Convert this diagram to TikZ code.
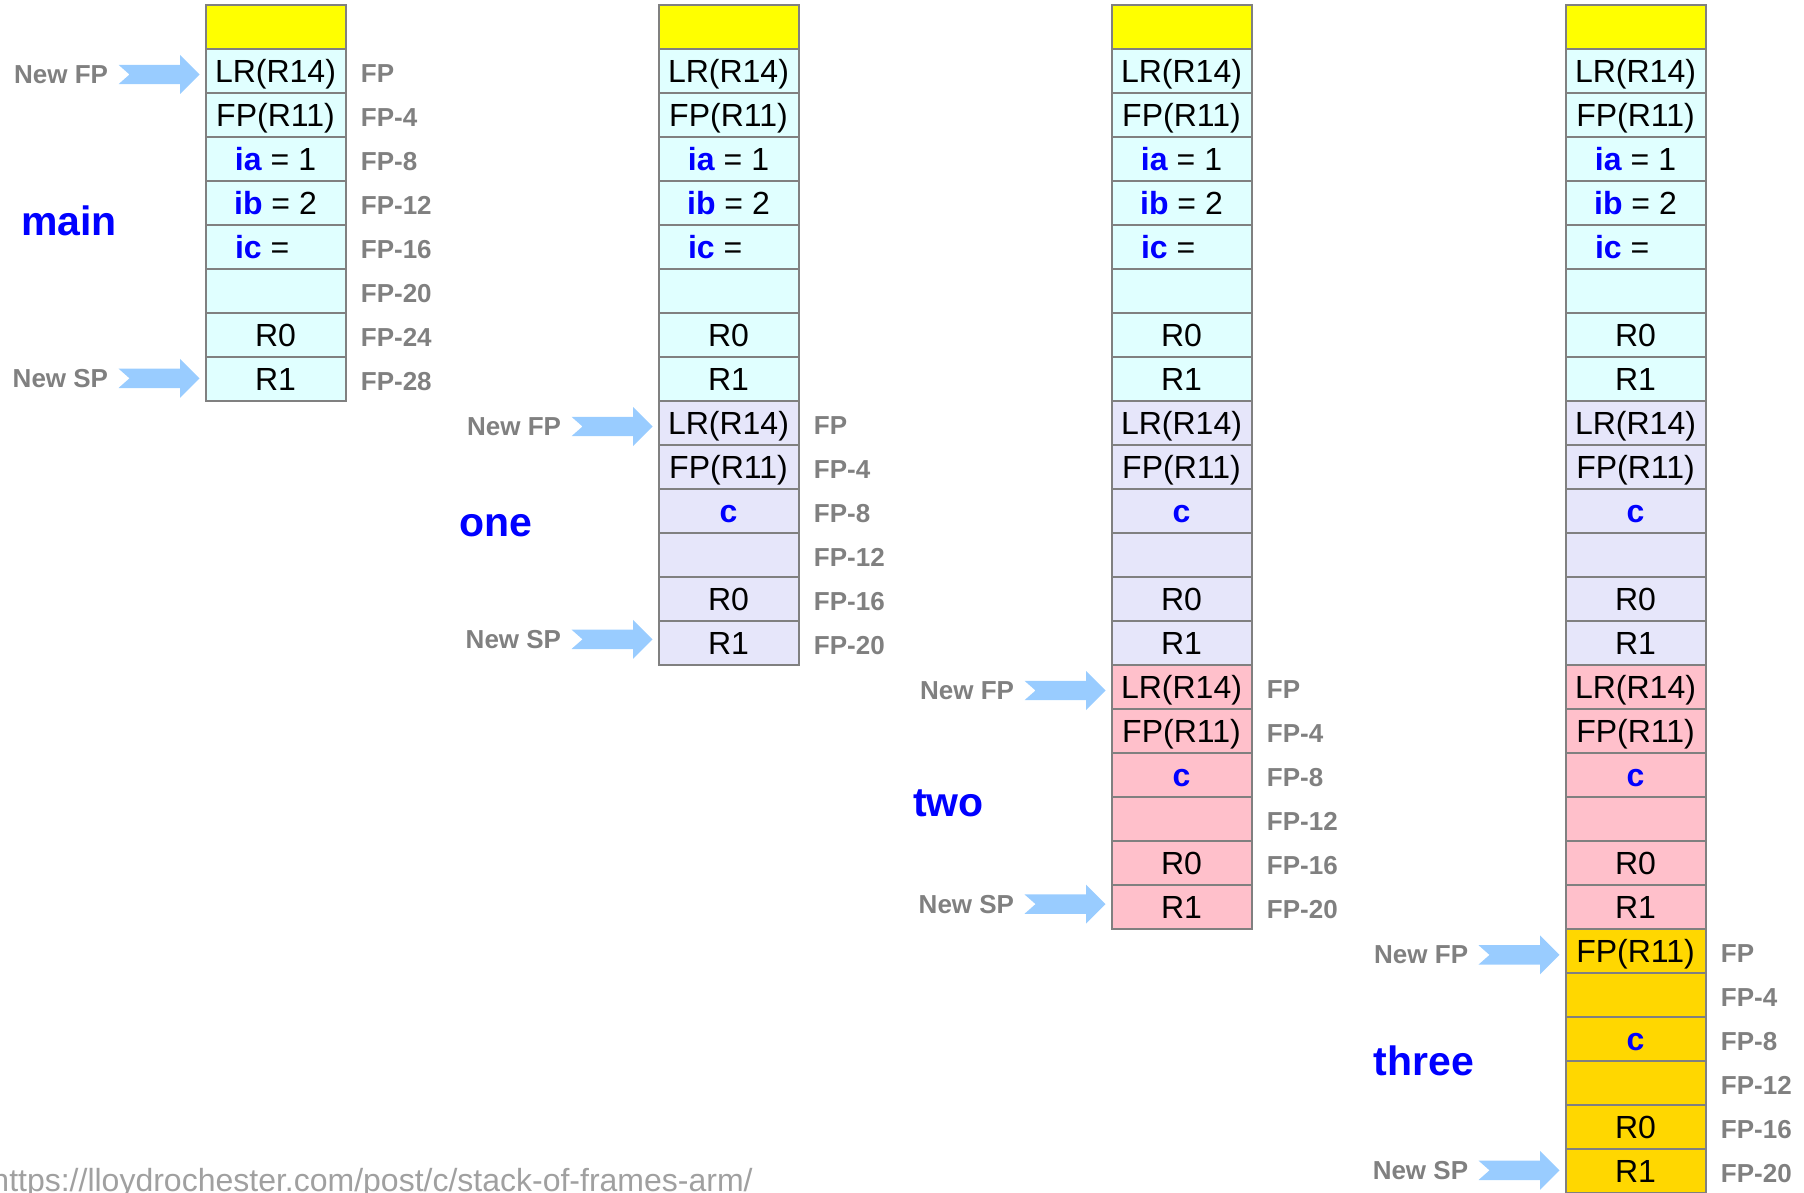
\documentclass[tikz,border=0pt]{standalone}
\usepackage{fontspec}
\setmainfont{Liberation Sans}

\definecolor{topyellow}{HTML}{FFFF00}
\definecolor{maincyan}{HTML}{E0FFFF}
\definecolor{onelav}{HTML}{E6E6FA}
\definecolor{twopink}{HTML}{FFC0CB}
\definecolor{threegold}{HTML}{FFD700}
\definecolor{cellgray}{HTML}{808080}
\definecolor{labgray}{HTML}{808080}
\definecolor{urlgray}{HTML}{A0A0A0}
\definecolor{arrowblue}{HTML}{99CCFF}

\newcommand{\var}[1]{\textcolor{blue}{\textbf{#1}}}
% block arrow pointing at a cell, with its label (#4 = vertical nudge)
\newcommand{\newptr}[4]{
  \fill[arrowblue] ([xshift=-2.5pt, yshift=#4]#1.west) -- +(-9.75pt,9.75pt) -- +(-9.75pt,4.85pt)
    -- +(-40.5pt,4.85pt) -- +(-35pt,0pt) -- +(-40.5pt,-4.85pt) -- +(-9.75pt,-4.85pt)
    -- +(-9.75pt,-9.75pt) -- cycle;
  \node[ptr] (#2) at ([xshift=-48pt, yshift=#4]#1.west) {#3};
}

\tikzset{
  cell/.style={draw=cellgray, line width=1pt, minimum width=70pt, minimum height=22pt,
    inner sep=0pt, text height=12.3pt, text depth=0.7pt, font=\fontsize{16}{18}\selectfont},
  offset/.style={anchor=west, inner sep=0pt, yshift=-1.2pt, text=labgray, font=\bfseries\fontsize{13}{15}\selectfont},
  ptr/.style={anchor=east, inner sep=0pt, text=labgray, font=\bfseries\fontsize{13}{15}\selectfont},
  fname/.style={anchor=base west, inner sep=0pt, text=blue, font=\bfseries\fontsize{20.5}{24}\selectfont},
}

\begin{document}
\begin{tikzpicture}[x=0.5pt, y=-0.5pt]
  \useasboundingbox (0,0) rectangle (1804,1193);

  % main frame, in every column
  \foreach \col/\cx in {1/275.5, 2/728.5, 3/1181.5, 4/1635.5} {
    \node[cell, fill=topyellow] (c\col-0) at (\cx,27.3) {};
    \foreach \txt [count=\i] in {LR(R14), FP(R11), {\var{ia} = 1}, {\var{ib} = 2}, {\var{ic} = \phantom{1}}, {}, R0, R1}
      \node[cell, fill=maincyan] (c\col-\i) at (\cx,27.3+44*\i) {\txt};
  }
  % one
  \foreach \col/\cx in {2/728.5, 3/1181.5, 4/1635.5}
    \foreach \txt [count=\i from 9] in {LR(R14), FP(R11), \var{c}, {}, R0, R1}
      \node[cell, fill=onelav] (c\col-\i) at (\cx,27.3+44*\i) {\txt};
  % two
  \foreach \col/\cx in {3/1181.5, 4/1635.5}
    \foreach \txt [count=\i from 15] in {LR(R14), FP(R11), \var{c}, {}, R0, R1}
      \node[cell, fill=twopink] (c\col-\i) at (\cx,27.3+44*\i) {\txt};
  % three
  \foreach \txt [count=\i from 21] in {FP(R11), {}, \var{c}, {}, R0, R1}
    \node[cell, fill=threegold] (c4-\i) at (1635.5,27.3+44*\i) {\txt};

  % offsets from FP
  \foreach \lab [count=\i] in {FP, FP-4, FP-8, FP-12, FP-16, FP-20, FP-24, FP-28}
    \node[offset] (o1-\i) at ([xshift=7pt]c1-\i.east) {\lab};
  \foreach \col/\first in {2/9, 3/15, 4/21}
    \foreach \lab [count=\i from \first] in {FP, FP-4, FP-8, FP-12, FP-16, FP-20}
      \node[offset] (o\col-\i) at ([xshift=7pt]c\col-\i.east) {\lab};

  % FP and SP pointers
  \newptr{c1-1}{fp1}{New FP}{-1.6pt}
  \newptr{c1-8}{sp1}{New SP}{0.5pt}
  \newptr{c2-9}{fp2}{New FP}{-1.6pt}
  \newptr{c2-14}{sp2}{New SP}{2pt}
  \newptr{c3-15}{fp3}{New FP}{-1.6pt}
  \newptr{c3-20}{sp3}{New SP}{1.6pt}
  \newptr{c4-21}{fp4}{New FP}{-1.8pt}
  \newptr{c4-26}{sp4}{New SP}{0.5pt}

  \node[fname] (main) at (20.7,235) {main};
  \node[fname] (one) at (459.3,536.7) {one};
  \node[fname] (two) at (912.7,816.7) {two};
  \node[fname] (three) at (1373.3,1075) {three};

  \node[anchor=base east, inner sep=0pt, text=urlgray, font=\fontsize{16}{18}\selectfont] (url)
    at (753,1191) {https://lloydrochester.com/post/c/stack-of-frames-arm/};
\end{tikzpicture}
\end{document}
